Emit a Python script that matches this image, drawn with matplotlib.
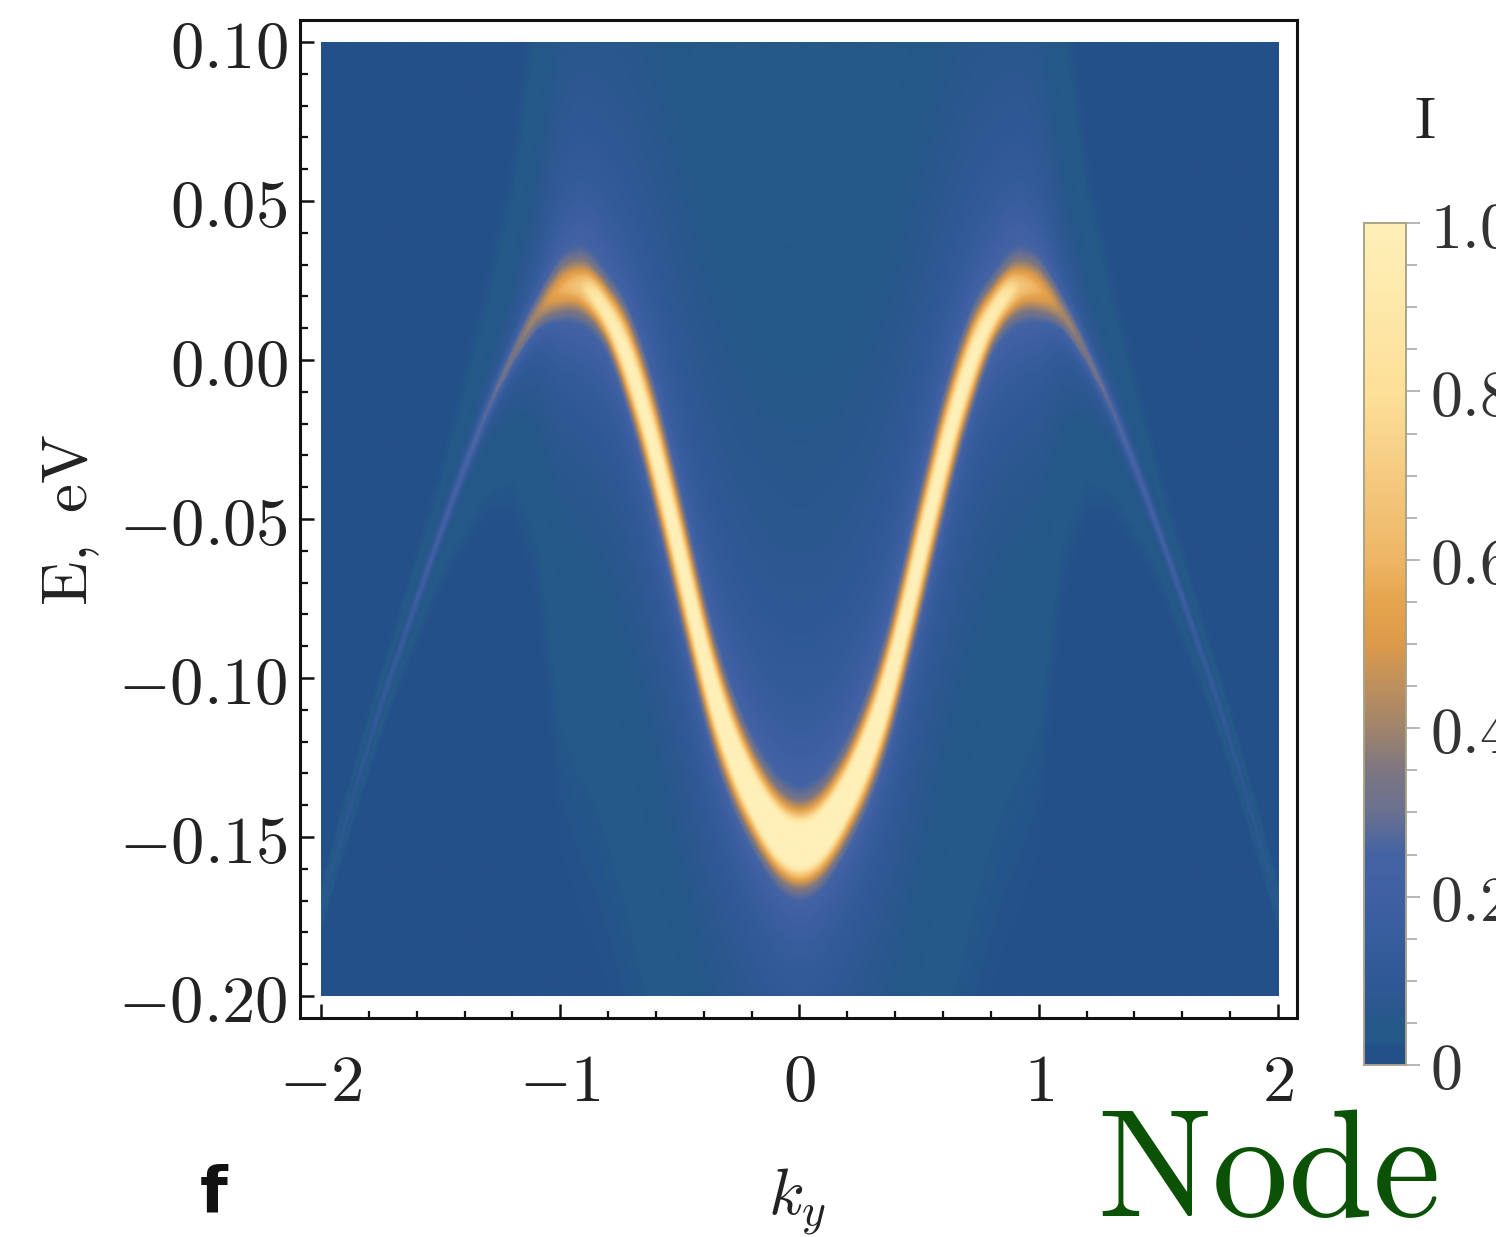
import numpy as np
import matplotlib
matplotlib.use("Agg")
import matplotlib.pyplot as plt
from matplotlib.colors import LinearSegmentedColormap
from matplotlib.ticker import FixedLocator, MultipleLocator

plt.rcParams['mathtext.fontset'] = 'cm'

W, H = 1496, 1237

# Band position (|k|, energy in eV)
band_k = [0.0, 0.07, 0.15, 0.26, 0.36, 0.39, 0.568, 0.651, 0.747, 0.86, 0.944, 1.03, 1.123, 1.29, 1.445, 1.66, 1.79, 2.0, 2.2]
band_E = [-0.154, -0.152, -0.144, -0.128, -0.107, -0.098, -0.040, -0.015, 0.007, 0.022, 0.0245, 0.0215, 0.013, -0.012, -0.042, -0.088, -0.117, -0.172, -0.225]
# Band strength and width
prof_k = [0.0, 0.2, 0.3, 0.4, 0.5, 0.6, 0.72, 0.8, 0.85, 0.92, 1.0, 1.1, 1.2, 1.3, 1.5, 1.7, 2.0]
prof_peak = [1.2, 1.0, 0.9, 0.8, 0.78, 0.75, 0.72, 0.62, 0.55, 0.32, 0.24, 0.19, 0.19, 0.17, 0.15, 0.08, 0.03]
prof_width = [0.0085, 0.0092, 0.0105, 0.0120, 0.0130, 0.0125, 0.0100, 0.0070, 0.0062, 0.0066, 0.0065, 0.0055, 0.0045, 0.0035, 0.0030, 0.0030, 0.0030]
prof_halo = [0.13, 0.13, 0.12, 0.11, 0.10, 0.10, 0.10, 0.11, 0.14, 0.15, 0.14, 0.11, 0.08, 0.06, 0.04, 0.03, 0.02]
prof_halo_width = [0.020, 0.020, 0.021, 0.023, 0.025, 0.025, 0.022, 0.019, 0.018, 0.018, 0.016, 0.013, 0.010, 0.008, 0.0066, 0.0066, 0.0066]
prof_tail = [0.29, 0.28, 0.275, 0.27, 0.265, 0.26, 0.25, 0.24, 0.23, 0.22, 0.20, 0.11, 0.07, 0.055, 0.035, 0.025, 0.02]

# Colour scale
cbar_levels = [0.0, 0.022, 0.03, 0.05, 0.07, 0.1, 0.2, 0.25, 0.3, 0.35, 0.4, 0.45, 0.5, 0.55, 0.6, 0.7, 0.8, 1.0]
cbar_colors = ['#24508a', '#24508a', '#245a88', '#255888', '#2b578f', '#2f5995', '#3f60a3', '#4363a3',
               '#6a7090', '#7c7680', '#a0846c', '#bd8f5c', '#dd9a4b', '#e5a44d', '#eeb565', '#f5ca80',
               '#fde099', '#fef0b8']

x_ticks = [-2, -1, 0, 1, 2]
x_tick_labels = ['$-2$', '$-1$', '$0$', '$1$', '$2$']
y_ticks = [-0.20, -0.15, -0.10, -0.05, 0.00, 0.05, 0.10]
y_tick_labels = ['$-0.20$', '$-0.15$', '$-0.10$', '$-0.05$', '$0.00$', '$0.05$', '$0.10$']
bar_ticks = [0, 0.2, 0.4, 0.6, 0.8, 1.0]
bar_tick_labels = ['$0$', '$0.2$', '$0.4$', '$0.6$', '$0.8$', '$1.0$']

cmap = LinearSegmentedColormap.from_list('arpes', list(zip(cbar_levels, cbar_colors)), N=512)

# Intensity map built from the read-off band profile
k = np.linspace(-2, 2, 801)
e = np.linspace(-0.2, 0.1, 801)
K, EE = np.meshgrid(k, e)
ak = np.abs(K)
# smooth the band table lightly so the ridge has no kinks
kfine = np.linspace(-2.2, 2.2, 1761)
efine = np.interp(np.abs(kfine), band_k, band_E)
kern = np.exp(-0.5 * (np.arange(-60, 61) / 18.0) ** 2)
kern /= kern.sum()
esmooth = np.convolve(np.pad(efine, 60, mode='edge'), kern, mode='valid')
ridge = np.interp(K, kfine, esmooth)
signed = EE - ridge
d = np.abs(signed)
peak = np.interp(ak, prof_k, prof_peak)
wid = np.interp(ak, prof_k, prof_width)
halo = np.interp(ak, prof_k, prof_halo)
halo_w = np.interp(ak, prof_k, prof_halo_width)
tail = np.interp(ak, prof_k, prof_tail)
scale = np.where(signed > 0, 0.03, 0.022)
intensity = (peak * np.exp(-(d / wid) ** 2)
             + halo / (1 + (d / halo_w) ** 2)
             + tail / (1 + d / scale))


def px_axes(x0, y0, x1, y1):
    return fig.add_axes([x0 / W, 1 - y1 / H, (x1 - x0) / W, (y1 - y0) / H])


fig = plt.figure(figsize=(W / 100, H / 100), dpi=100, facecolor='white')
ax = px_axes(300, 20, 1297, 1018)
im = ax.imshow(intensity, extent=[-2, 2, -0.2, 0.1], origin='lower', aspect='auto',
               cmap=cmap, vmin=0, vmax=1, interpolation='bilinear')
ax.set_xlim(-2 - 21 / 239.5, 2 + 19 / 239.5)
ax.set_ylim(-0.2 - 22 / 3180, 0.1 + 22 / 3180)
for s in ax.spines.values():
    s.set_linewidth(2.2)
    s.set_color('#111111')
ax.set_xticks(x_ticks)
ax.set_xticklabels(x_tick_labels, fontsize=48)
ax.set_yticks(y_ticks)
ax.set_yticklabels(y_tick_labels, fontsize=48)
ax.xaxis.set_minor_locator(MultipleLocator(0.2))
ax.yaxis.set_minor_locator(MultipleLocator(0.01))
ax.tick_params(which='major', direction='in', length=10, width=1.8, color='#111111', top=False, right=False)
ax.tick_params(which='minor', direction='in', length=5.4, width=1.6, color='#111111', top=False, right=False)
ax.tick_params(axis='x', which='major', pad=22, labelcolor='#222222')
ax.tick_params(axis='y', which='major', pad=9, labelcolor='#222222')

fig.text(70 / W, 1 - 520 / H, r'$\mathrm{E,\ eV}$', rotation=90, fontsize=47, ha='center', va='center', color='#222222')
fig.text(797 / W, 1 - 1202 / H, r'$k_y$', fontsize=47, ha='center', va='center', color='#222222')
fig.text(1425 / W, 1 - 122 / H, r'$\mathrm{I}$', fontsize=42, ha='center', va='center', color='#222222')
fig.text(1268 / W, 1 - 1173 / H, r'$\mathrm{Node}$', fontsize=110, ha='center', va='center', color='#0b5206')
fig.text(214 / W, 1 - 1194 / H, 'f', family='DejaVu Sans', weight='bold', fontsize=46, ha='center', va='center', color='#111111')

cax = px_axes(1364, 223, 1406, 1065)
cb = fig.colorbar(im, cax=cax)
cb.outline.set_edgecolor('#a8a488')
cb.outline.set_linewidth(1.4)
cax.yaxis.set_major_locator(FixedLocator(bar_ticks))
cax.yaxis.set_minor_locator(MultipleLocator(0.05))
cb.set_ticks(bar_ticks)
cb.set_ticklabels(bar_tick_labels)
cax.tick_params(which='major', length=10, width=1.3, color='#b0b0b0', labelsize=46, pad=7, labelcolor='#333333')
cax.tick_params(which='minor', length=8, width=1.3, color='#b0b0b0')

fig.savefig('out.png', dpi=100)
